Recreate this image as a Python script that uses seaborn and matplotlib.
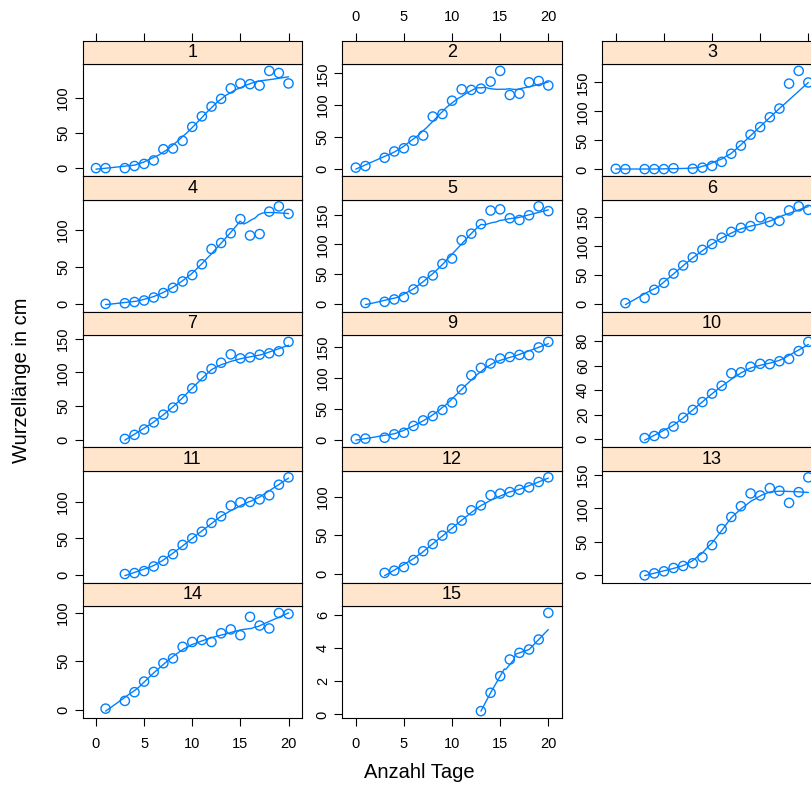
import numpy as np
import pandas as pd
import matplotlib
matplotlib.use("Agg")
import matplotlib.pyplot as plt
import seaborn as sns
from matplotlib.ticker import MaxNLocator

# ==============================
# DATEN
# ==============================
tage_a = [0, 1, 3, 4, 5, 6, 7, 8, 9, 10, 11, 12, 13, 14, 15, 16, 17, 18, 19, 20]
tage_b = [0, 1, 3, 4, 5, 6, 8, 9, 10, 11, 12, 13, 14, 15, 16, 17, 18, 19, 20]
tage_c = [1, 3, 4, 5, 6, 7, 8, 9, 10, 11, 12, 13, 14, 15, 16, 17, 18, 19, 20]
tage_d = [3, 4, 5, 6, 7, 8, 9, 10, 11, 12, 13, 14, 15, 16, 17, 18, 19, 20]
tage_e = [13, 14, 15, 16, 17, 18, 19, 20]

cm_1 = [0, 0, 0, 3, 6, 11, 27, 28, 39, 59, 74, 88, 99, 114, 121, 120, 118, 139, 136, 121]
cm_2 = [1.5, 4, 17, 27, 32, 44, 52, 82, 86, 107, 125, 124, 126, 137, 154, 116, 118, 136, 138, 131]
cm_3 = [1, 0.5, 0.5, 0.5, 0.5, 2, 1, 3, 6, 13, 27, 41, 60, 73, 90, 105, 148, 170, 150]
cm_4 = [0.5, 1.3, 3, 5, 9, 15, 22, 30.5, 39, 53.5, 74, 82, 95, 114, 92, 94, 124, 131, 121]
cm_5 = [1, 3, 7, 11, 24, 37.5, 47.5, 67, 76, 107, 118, 134, 157, 159, 144, 141, 149, 164, 156]
cm_6 = [1, 10, 24, 36, 52, 66, 80, 93, 103, 114, 124, 131, 134, 149, 141, 143, 161, 168, 162]
cm_7 = [1, 7, 15, 25.5, 37, 47.5, 60, 76, 94, 105, 114, 126.5, 120.5, 122, 126, 128, 131, 145]
cm_9 = [1, 1.5, 3, 8.5, 11, 22, 31, 38, 48, 60, 81, 104, 116, 123, 131, 133.5, 137, 136.5, 149, 158]
cm_10 = [1, 2.7, 4.8, 10.4, 17.6, 24, 30.4, 37.3, 43.7, 53.9, 54.7, 59.2, 61.6, 61.3, 63.7, 65.6, 72, 79.5]
cm_11 = [1.4, 2.7, 5.4, 11.7, 19.4, 28.4, 41, 50, 59, 71, 80, 94.6, 99, 99.5, 103, 108.6, 123, 133]
cm_12 = [1.3, 4.2, 8.8, 18, 29.4, 38.7, 49.6, 58.8, 69, 82.4, 88.7, 102, 104, 106, 109, 112, 119, 125]
cm_13 = [0, 3, 6, 11, 14, 18, 27, 45, 69, 87, 103, 122, 119, 130, 126, 108, 124, 146]
cm_14 = [1, 9, 18, 29, 39, 48, 53, 65, 70, 72, 70, 79, 83, 77, 96, 87, 84, 100, 99]
cm_15 = [0.2, 1.3, 2.3, 3.3, 3.7, 3.9, 4.5, 6.1]

pflanzen = [1, 2, 3, 4, 5, 6, 7, 9, 10, 11, 12, 13, 14, 15]
reihen = [
    (tage_a, cm_1), (tage_a, cm_2), (tage_b, cm_3), (tage_c, cm_4),
    (tage_c, cm_5), (tage_c, cm_6), (tage_d, cm_7), (tage_a, cm_9),
    (tage_d, cm_10), (tage_d, cm_11), (tage_d, cm_12), (tage_d, cm_13),
    (tage_c, cm_14), (tage_e, cm_15),
]

df = pd.concat(
    [pd.DataFrame({"pflanze": p, "tage": t, "cm": v}) for p, (t, v) in zip(pflanzen, reihen)],
    ignore_index=True,
)

BLAU = "#0080ff"
STRIP = "#ffe5cc"


# ==============================
# LOESS (lokal linear, robust)
# ==============================
def loess_kurve(x, y, span=0.4, n_out=50, iterationen=4):
    x = np.asarray(x, float)
    y = np.asarray(y, float)
    n = len(x)
    q = max(int(np.floor(n * span)), 3)

    def fit_at(x0, rw):
        d = np.abs(x - x0)
        h = max(np.sort(d)[q - 1], 1e-9) * 1.001
        u = d / h
        w = np.where(u < 1, (1 - u ** 3) ** 3, 0) * rw
        X = np.column_stack([np.ones(n), x - x0])
        A = X.T @ (X * w[:, None])
        b = X.T @ (w * y)
        return np.linalg.lstsq(A, b, rcond=None)[0][0]

    rw = np.ones(n)
    for _ in range(iterationen - 1):
        fitted = np.array([fit_at(xi, rw) for xi in x])
        res = y - fitted
        s = np.median(np.abs(res))
        if s == 0:
            break
        u = res / (6 * s)
        rw = np.where(np.abs(u) < 1, (1 - u ** 2) ** 2, 0)

    xs = np.linspace(x.min(), x.max(), n_out)
    ys = np.array([fit_at(xi, rw) for xi in xs])
    return xs, ys


def panel_zeichnen(data, color=None, **kws):
    ax = plt.gca()
    sns.scatterplot(data=data, x="tage", y="cm", ax=ax, marker="o", s=44,
                    color=BLAU, facecolor="none", edgecolor=BLAU,
                    linewidth=1.0, zorder=3)
    xs, ys = loess_kurve(data["tage"], data["cm"])
    ax.plot(xs, ys, color=BLAU, lw=1.0, zorder=2)
    lo = min(data["cm"].min(), ys.min())
    hi = max(data["cm"].max(), ys.max())
    pad = (hi - lo) * 0.07
    ax.set_ylim(lo - pad, hi + pad)


# ==============================
# PLOT
# ==============================
sns.set_style("ticks")
plt.rcParams["font.family"] = ["Liberation Sans", "DejaVu Sans"]
plt.rcParams["text.color"] = "black"

g = sns.FacetGrid(df, col="pflanze", col_wrap=3, sharey=False, sharex=True,
                  height=2, aspect=1.6, despine=False)
g.map_dataframe(panel_zeichnen)
g.set_titles("")
g.set_axis_labels("", "")

fig = g.figure
fig.set_size_inches(8.11, 7.91)
fig.set_dpi(100)

W, H = 811, 791
links = [82.5, 342.3, 602.3]
breite = 219.5
oben0 = 40.5
zeile = 135.5
strip_h = 23.5
panel_h = 112

xt = [0, 5, 10, 15, 20]
TICKSIZE = 10.5

for i, (ax, pfl) in enumerate(zip(g.axes.flat, pflanzen)):
    r, c = divmod(i, 3)
    st = oben0 + r * zeile
    ax.set_position([links[c] / W, 1 - (st + strip_h + panel_h) / H,
                     breite / W, panel_h / H])
    ax.set_xlim(-1.4, 21.4)
    ax.set_xticks(xt)
    ax.yaxis.set_major_locator(MaxNLocator(nbins=5, steps=[1, 2, 5, 10]))
    for sp in ax.spines.values():
        sp.set_color("black")
        sp.set_linewidth(0.8)
    unten = pfl in (14, 15)
    ax.tick_params(axis="both", direction="out", length=6, width=0.8,
                   labelsize=TICKSIZE, colors="black", pad=3)
    ax.tick_params(axis="x", bottom=unten, labelbottom=unten, top=False,
                   labeltop=False, pad=8)
    ax.tick_params(axis="y", left=True, labelleft=True, right=False,
                   labelrotation=90)
    for lab in ax.get_yticklabels():
        lab.set_va("center")
    if unten:
        for lab in ax.get_xticklabels():
            lab.set_visible(True)
    ax.set_xlabel("")
    ax.set_ylabel("")

    # Streifen mit Paneltitel
    sax = fig.add_axes([links[c] / W, 1 - (st + strip_h) / H,
                        breite / W, strip_h / H])
    sax.set_facecolor(STRIP)
    sax.set_xlim(-1.4, 21.4)
    sax.set_ylim(0, 1)
    sax.set_yticks([])
    sax.set_xticks(xt)
    for sp in sax.spines.values():
        sp.set_color("black")
        sp.set_linewidth(0.8)
    sax.text(0.5, 0.48, str(pfl), transform=sax.transAxes, ha="center",
             va="center", fontsize=13, color="black")
    oben = r == 0
    sax.tick_params(axis="x", bottom=False, labelbottom=False, top=oben,
                    labeltop=(oben and c == 1), direction="out", length=6,
                    width=0.8, labelsize=TICKSIZE, colors="black", pad=6)

fig.text(22 / W, 1 - 380 / H, "Wurzellänge in cm", rotation=90,
         ha="center", va="center", fontsize=14.5, color="black")
fig.text(419 / W, 1 - 773 / H, "Anzahl Tage", ha="center", va="center",
         fontsize=14.5, color="black")

fig.savefig("out.png", dpi=100)
